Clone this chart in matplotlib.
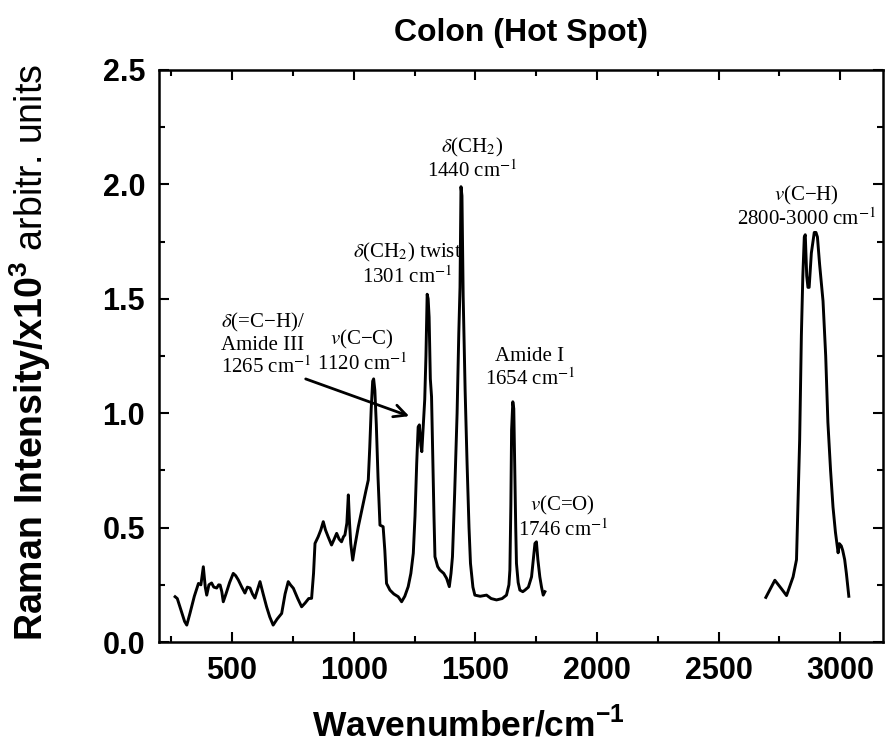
import matplotlib
matplotlib.use('Agg')
import matplotlib.pyplot as plt
from matplotlib.ticker import MultipleLocator

# Raman spectrum, fingerprint region
wn_low = [266, 275, 290, 305, 314, 327, 345, 362, 372, 382, 390, 396, 405, 416, 425,
          437, 445, 451, 458, 464, 475, 490, 505, 515, 526, 540, 553, 563, 574, 584,
          594, 605, 615, 628, 642, 655, 669, 685, 704, 718, 731, 740, 752, 770, 786,
          800, 815, 827, 835, 841, 854, 865, 875, 884, 895, 909, 920, 930, 940, 950,
          958, 964, 972, 978, 983, 988, 996, 1005, 1019, 1030, 1039, 1050, 1060, 1066,
          1072, 1078, 1082, 1087, 1093, 1100, 1108, 1121, 1128, 1135, 1149, 1165, 1183,
          1197, 1210, 1224, 1235, 1245, 1252, 1259, 1265, 1270, 1276, 1280, 1286, 1292,
          1297, 1302, 1306, 1310, 1315, 1320, 1325, 1330, 1334, 1345, 1354, 1370, 1382,
          1393, 1400, 1406, 1415, 1425, 1432, 1437, 1441, 1445, 1450, 1458, 1466, 1474,
          1480, 1490, 1498, 1520, 1546, 1565, 1587, 1610, 1628, 1638, 1642, 1646, 1649,
          1654, 1658, 1662, 1666, 1669, 1676, 1683, 1695, 1704, 1718, 1731, 1740, 1745,
          1751, 1757, 1765, 1772, 1779, 1786]
int_low = [0.198, 0.19, 0.14, 0.09, 0.074, 0.125, 0.20, 0.256, 0.25, 0.329, 0.24, 0.205,
           0.25, 0.258, 0.24, 0.236, 0.25, 0.249, 0.22, 0.176, 0.21, 0.26, 0.300, 0.29,
           0.271, 0.24, 0.214, 0.24, 0.236, 0.21, 0.192, 0.23, 0.264, 0.21, 0.154, 0.11,
           0.074, 0.10, 0.125, 0.21, 0.264, 0.25, 0.235, 0.19, 0.154, 0.17, 0.19, 0.191,
           0.30, 0.431, 0.460, 0.49, 0.526, 0.49, 0.460, 0.424, 0.45, 0.475, 0.45, 0.438,
           0.46, 0.468, 0.52, 0.643, 0.52, 0.43, 0.358, 0.42, 0.504, 0.56, 0.606, 0.66,
           0.708, 0.85, 1.02, 1.14, 1.15, 1.10, 0.95, 0.72, 0.511, 0.504, 0.40, 0.256,
           0.227, 0.21, 0.198, 0.176, 0.20, 0.242, 0.30, 0.388, 0.55, 0.781, 0.94, 0.949,
           0.86, 0.832, 0.95, 1.06, 1.25, 1.52, 1.50, 1.42, 1.15, 1.072, 0.80, 0.55, 0.373,
           0.33, 0.315, 0.30, 0.278, 0.242, 0.30, 0.373, 0.65, 1.0, 1.35, 1.55, 1.99, 1.95,
           1.51, 1.10, 0.781, 0.50, 0.344, 0.24, 0.205, 0.20, 0.205, 0.19, 0.184, 0.19,
           0.205, 0.25, 0.315, 0.60, 0.927, 1.05, 1.02, 0.75, 0.50, 0.344, 0.26, 0.227,
           0.22, 0.227, 0.24, 0.285, 0.38, 0.431, 0.438, 0.36, 0.285, 0.24, 0.205, 0.22]

# high wavenumber region (C-H stretch)
wn_high = [2694, 2731, 2758, 2779, 2806, 2820, 2833, 2840, 2846, 2852, 2856, 2862, 2867,
           2872, 2881, 2893, 2900, 2906, 2915, 2929, 2940, 2949, 2960, 2970, 2980, 2991,
           2996, 3004, 3010, 3018, 3025, 3035]
int_high = [0.195, 0.27, 0.233, 0.203, 0.285, 0.36, 0.886, 1.34, 1.60, 1.77, 1.78, 1.60,
            1.55, 1.55, 1.70, 1.79, 1.79, 1.77, 1.65, 1.49, 1.25, 0.96, 0.75, 0.59, 0.48,
            0.39, 0.43, 0.42, 0.40, 0.36, 0.30, 0.20]

# band labels: text, x, y
band_labels = [
    ("$\\delta$(CH$_2$)\n1440 cm$^{-1}$", 1486, 2.11),
    ("$\\delta$(CH$_2$) twist\n1301 cm$^{-1}$", 1219, 1.65),
    ("$v$(C\u2212C)\n1120 cm$^{-1}$", 1034, 1.27),
    ("Amide I\n1654 cm$^{-1}$", 1724, 1.195),
    ("$v$(C=O)\n1746 cm$^{-1}$", 1860, 0.545),
    ("$v$(C\u2212H)\n2800-3000 cm$^{-1}$", 2862, 1.90),
]

plt.rcParams['font.family'] = 'Liberation Sans'
plt.rcParams['mathtext.fontset'] = 'custom'
plt.rcParams['mathtext.bf'] = 'Liberation Sans:bold'
plt.rcParams['mathtext.rm'] = 'Liberation Sans'

fig = plt.figure(figsize=(8.9, 7.51), dpi=100)
ax = fig.add_axes([0.1787, 0.1451, 0.8133, 0.7617])

ax.plot(wn_low, int_low, color='black', lw=2.1)
ax.plot(wn_high, int_high, color='black', lw=2.1)

ax.set_xlim(200, 3175)
ax.set_ylim(0, 2.5)
ax.xaxis.set_minor_locator(MultipleLocator(250))
ax.yaxis.set_minor_locator(MultipleLocator(0.25))
ax.set_yticks([0, 0.5, 1.0, 1.5, 2.0, 2.5])
ax.set_yticklabels(['0.0', '0.5', '1.0', '1.5', '2.0', '2.5'])
ax.set_xticks([500, 1000, 1500, 2000, 2500, 3000])

ax.tick_params(which='both', direction='in', top=True, right=True, width=1.5)
ax.tick_params(which='major', length=7.5, pad=10, labelsize=22)
ax.tick_params(which='minor', length=4.5)
for lab in ax.get_xticklabels() + ax.get_yticklabels():
    lab.set_fontweight('bold')
for sp in ax.spines.values():
    sp.set_linewidth(1.8)

ax.set_title('Colon (Hot Spot)', fontsize=23, fontweight='bold', pad=21)
ax.set_xlabel('Wavenumber/cm$^{\\mathbf{-1}}$', fontsize=25.5, fontweight='bold')
ax.xaxis.set_label_coords(0.427, -0.112)
ax.set_ylabel('$\\mathbf{Raman\\ Intensity/x10^{3}}$ arbitr. units', fontsize=27)
ax.yaxis.set_label_coords(-0.146, 0.507)

serif = dict(family='Liberation Serif', size=15, math_fontfamily='stix')
for txt, x, y in band_labels:
    ax.text(x, y, txt, ha='center', va='center', linespacing=1.1, **serif)

# the 1265 band gets an arrow
ax.annotate("$\\delta$(=C\u2212H)/\nAmide III\n1265 cm$^{-1}$", xy=(1239, 0.983), xytext=(455, 1.30),
            ha='left', va='center', linespacing=1.1, **serif)
ax.annotate("", xy=(1239, 0.983), xytext=(792, 1.154),
            arrowprops=dict(arrowstyle='->', lw=2, color='black', mutation_scale=22))

fig.savefig('out.png', dpi=100)
